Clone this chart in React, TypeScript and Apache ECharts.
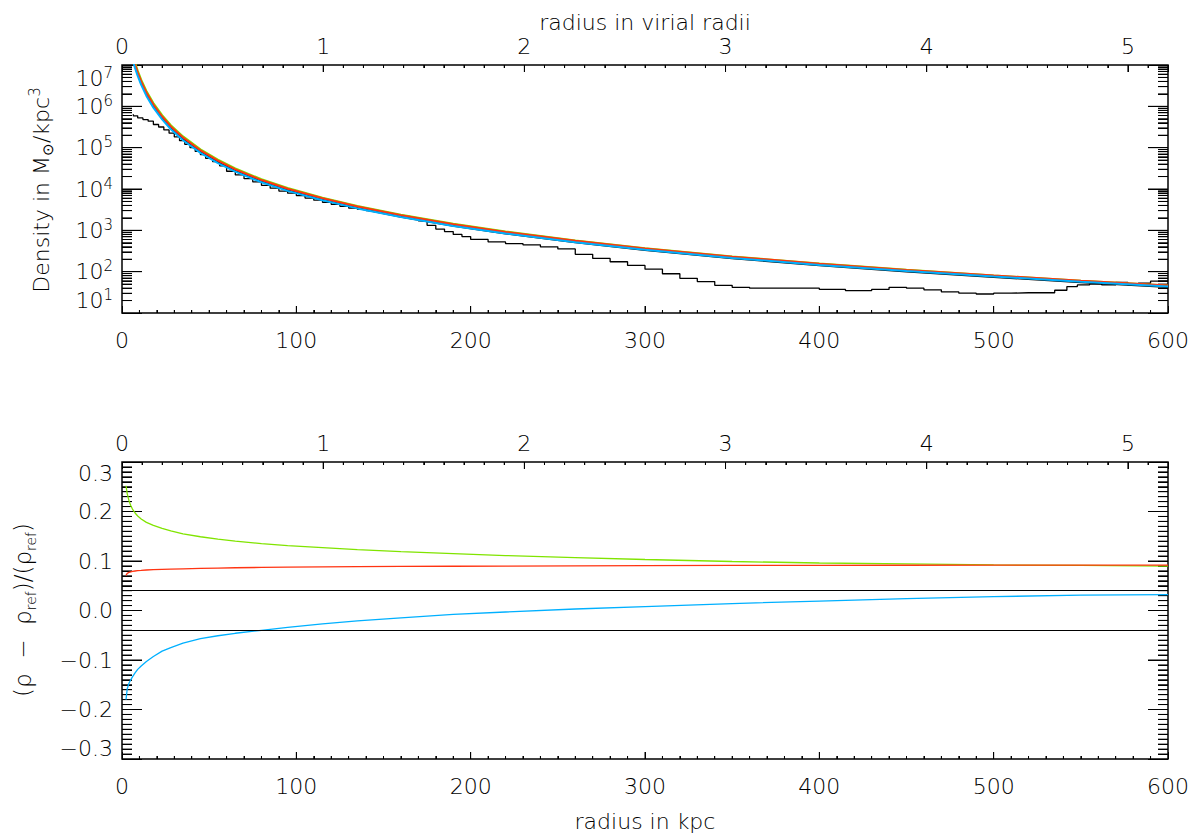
import React, { useEffect, useRef } from 'react';
import * as echarts from 'echarts';

// ---------- data ----------
// radii (kpc) at which the model curves are sampled
const radii = [2.3, 3, 4, 5, 6, 7.5, 9, 11, 14, 18, 23, 28, 35, 45, 55, 65, 80, 95, 115, 135, 160, 190, 220, 260, 300, 350, 400, 450, 500, 550, 600];
// log10 of the reference density (Msun/kpc^3)
const logRhoRef = [8.03, 7.81, 7.57, 7.37, 7.2, 6.98, 6.79, 6.57, 6.3, 6.01, 5.72, 5.48, 5.21, 4.9, 4.65, 4.44, 4.18, 3.97, 3.74, 3.54, 3.33, 3.11, 2.925, 2.71, 2.525, 2.325, 2.155, 2.005, 1.87, 1.745, 1.63];
// relative deviations (rho - rho_ref)/rho_ref
const deltaGreen = [0.252, 0.236, 0.222, 0.212, 0.205, 0.197, 0.191, 0.185, 0.178, 0.172, 0.166, 0.161, 0.155, 0.149, 0.144, 0.14, 0.135, 0.131, 0.127, 0.123, 0.119, 0.115, 0.111, 0.107, 0.103, 0.099, 0.096, 0.094, 0.092, 0.091, 0.0895];
const deltaRed = [0.071, 0.075, 0.077, 0.078, 0.079, 0.0798, 0.0805, 0.081, 0.0818, 0.0825, 0.083, 0.0835, 0.0842, 0.085, 0.0858, 0.0864, 0.087, 0.0876, 0.0882, 0.0886, 0.089, 0.0894, 0.0898, 0.0902, 0.0906, 0.091, 0.0912, 0.0914, 0.0915, 0.0916, 0.0916];
const deltaBlue = [-0.18, -0.158, -0.147, -0.14, -0.134, -0.126, -0.119, -0.112, -0.103, -0.093, -0.082, -0.075, -0.066, -0.057, -0.051, -0.046, -0.04, -0.034, -0.027, -0.021, -0.015, -0.008, -0.003, 0.003, 0.008, 0.014, 0.019, 0.024, 0.028, 0.031, 0.032];
// simulated density histogram (bin edge in kpc, log10 density)
const histRadii = [6.5, 9, 12, 15, 18, 21, 24, 27, 30, 33, 36, 39, 42, 45, 48, 52, 56, 60, 65, 70, 75, 80, 85, 90, 95, 100, 105, 110, 115, 120, 125, 130, 135, 140, 145, 150, 155, 160, 165, 170, 175, 180, 185, 190, 195, 200, 210, 220, 230, 240, 250, 260, 270, 280, 290, 300, 310, 320, 330, 340, 350, 360, 370, 385, 400, 415, 430, 440, 450, 460, 470, 480, 490, 500, 510, 520, 535, 542, 548, 555, 562, 570, 577, 583, 590, 597, 600];
const histLogRho = [5.81, 5.77, 5.72, 5.68, 5.64, 5.56, 5.5, 5.43, 5.35, 5.26, 5.17, 5.08, 5.0, 4.91, 4.83, 4.74, 4.66, 4.56, 4.43, 4.34, 4.25, 4.17, 4.09, 4.02, 3.95, 3.9, 3.84, 3.78, 3.73, 3.68, 3.63, 3.58, 3.54, 3.51, 3.48, 3.45, 3.42, 3.38, 3.34, 3.3, 3.23, 3.12, 3.03, 2.97, 2.9, 2.85, 2.78, 2.72, 2.68, 2.65, 2.6, 2.55, 2.42, 2.32, 2.24, 2.15, 2.06, 1.95, 1.84, 1.76, 1.67, 1.62, 1.6, 1.6, 1.6, 1.57, 1.54, 1.57, 1.62, 1.6, 1.56, 1.51, 1.48, 1.46, 1.48, 1.49, 1.49, 1.55, 1.64, 1.68, 1.7, 1.68, 1.74, 1.68, 1.72, 1.77, 1.77];
// horizontal reference lines in the lower panel
const bandLimits = [0.045, -0.045];
// axis ranges
const kpcRange = [0, 600];
const densityRange = [10, 1e7];
const deltaRange = [-0.3, 0.3];
const rVirialKpc = 115.4;

const FONT = 'DejaVu Sans';
const TXT = '#000';
const GREEN = '#80e400';
const RED = '#ff3412';
const BLUE = '#00b0ff';

export default function App() {
  const ref = useRef<HTMLDivElement>(null);
  useEffect(() => {
    if (!ref.current) return;
    const chart = echarts.init(ref.current, undefined, { renderer: 'svg' });
    const vMax = kpcRange[1] / rVirialKpc;

    const refData = radii.map((r, i) => [r, Math.pow(10, logRhoRef[i])]);
    const modelData = (d: number[]) => radii.map((r, i) => [r, Math.pow(10, logRhoRef[i]) * (1 + d[i])]);
    const histData = histRadii.map((r, i) => [r, Math.pow(10, histLogRho[i])]);

    const labelBase = { color: TXT, fontFamily: FONT, fontSize: 22, fontWeight: 200 as any };
    const tickStyle = { color: '#000', width: 1 };
    const noLine = { show: false, onZero: false };
    const noSplit = { show: false };

    const kpcAxis = (gridIndex: number) => ({
      type: 'value', gridIndex, position: 'bottom', min: kpcRange[0], max: kpcRange[1], interval: 100,
      axisLine: noLine, splitLine: noSplit, minorSplitLine: noSplit,
      axisTick: { show: true, inside: true, length: 7, lineStyle: tickStyle },
      minorTick: { show: true, splitNumber: 10, length: 3, lineStyle: tickStyle },
      axisLabel: { ...labelBase, margin: 16 },
    });
    const virAxisMajor = (gridIndex: number) => ({
      type: 'value', gridIndex, position: 'top', min: 0, max: vMax, interval: 1,
      axisLine: noLine, splitLine: noSplit,
      axisTick: { show: true, inside: true, length: 7, lineStyle: tickStyle },
      axisLabel: {
        ...labelBase, margin: 8,
        formatter: (v: number) => (Math.abs(v - Math.round(v)) < 1e-6 ? String(Math.round(v)) : ''),
      },
    });
    const virAxisMinor = (gridIndex: number) => ({
      type: 'value', gridIndex, position: 'top', min: 0, max: vMax, interval: 0.1,
      axisLine: noLine, splitLine: noSplit,
      axisTick: { show: true, inside: true, length: 3, lineStyle: tickStyle },
      axisLabel: { show: false },
    });
    const logAxis = (position: string, showLabel: boolean) => ({
      type: 'log', gridIndex: 0, position, min: densityRange[0], max: densityRange[1], logBase: 10, splitNumber: 6,
      axisLine: noLine, splitLine: noSplit, minorSplitLine: noSplit,
      axisTick: { show: true, inside: true, length: 20, lineStyle: tickStyle },
      minorTick: { show: true, splitNumber: 9, length: 10, lineStyle: tickStyle },
      axisLabel: showLabel
        ? {
            margin: 9,
            verticalAlignMaxLabel: 'top', verticalAlignMinLabel: 'bottom',
            formatter: (v: number) => '{b|10}{e|' + Math.round(Math.log10(v)) + '}',
            rich: {
              b: { ...labelBase, lineHeight: 26 },
              e: { ...labelBase, fontSize: 15, lineHeight: 16, verticalAlign: 'top' },
            },
          }
        : { show: false },
    });
    const linAxis = (position: string, showLabel: boolean) => ({
      type: 'value', gridIndex: 1, position, min: deltaRange[0], max: deltaRange[1], interval: 0.1,
      axisLine: noLine, splitLine: noSplit, minorSplitLine: noSplit,
      axisTick: { show: true, inside: true, length: 20, lineStyle: tickStyle },
      minorTick: { show: true, splitNumber: 10, length: 10, lineStyle: tickStyle },
      axisLabel: showLabel
        ? {
            ...labelBase, margin: 9,
            verticalAlignMaxLabel: 'top', verticalAlignMinLabel: 'bottom',
            formatter: (v: number) => (Math.abs(v) < 1e-9 ? '0.0' : v.toFixed(1).replace('-', '\u2212')),
          }
        : { show: false },
    });

    const line = (xi: number, yi: number, data: any, color: string, width: number, extra: any = {}) => ({
      type: 'line', xAxisIndex: xi, yAxisIndex: yi, data, showSymbol: false, symbol: 'none',
      lineStyle: { color, width }, itemStyle: { color }, silent: true, clip: true, ...extra,
    });

    // first pass: axes and series only (no graphic component yet)
    chart.setOption({
      animation: false,
      backgroundColor: '#fff',
      textStyle: { fontFamily: FONT },
      grid: [
        { left: 122, top: 65, width: 1046, height: 248, show: true, borderColor: '#000', borderWidth: 1.5, backgroundColor: 'transparent' },
        { left: 122, top: 462, width: 1046, height: 297, show: true, borderColor: '#000', borderWidth: 1.5, backgroundColor: 'transparent' },
      ],
      xAxis: [kpcAxis(0), virAxisMajor(0), virAxisMinor(0), kpcAxis(1), virAxisMajor(1), virAxisMinor(1)],
      yAxis: [logAxis('left', true), logAxis('right', false), linAxis('left', true), linAxis('right', false)],
      series: [
        line(0, 0, histData, '#000', 1.3, { step: 'start' }),
        line(0, 0, refData, '#000', 2),
        line(0, 0, modelData(deltaGreen), GREEN, 2),
        line(0, 0, modelData(deltaRed), RED, 2),
        line(0, 0, modelData(deltaBlue), BLUE, 2),
        line(3, 2, radii.map((r, i) => [r, deltaGreen[i]]), GREEN, 1.3),
        line(3, 2, radii.map((r, i) => [r, deltaRed[i]]), RED, 1.3),
        line(3, 2, radii.map((r, i) => [r, deltaBlue[i]]), BLUE, 1.3, {
          markLine: {
            symbol: 'none', silent: true, label: { show: false },
            lineStyle: { color: '#000', type: 'solid', width: 1 },
            data: bandLimits.map((v) => ({ yAxis: v })),
          },
        }),
      ],
    });

    // ---- tick marks placed through the chart's own coordinate system ----
    const tickEls: any[] = [];
    const addTick = (g: number, x: number, y: number, len: number, side: number) => {
      let p: any = null;
      try {
        p = chart.convertToPixel({ gridIndex: g } as any, [x, y]);
      } catch (e) {
        p = null;
      }
      if (!p || !isFinite(p[0]) || !isFinite(p[1])) return;
      let x2 = p[0];
      let y2 = p[1];
      if (side === 0) y2 = p[1] - len;
      else if (side === 1) y2 = p[1] + len;
      else if (side === 2) x2 = p[0] + len;
      else x2 = p[0] - len;
      tickEls.push({
        type: 'line',
        shape: { x1: p[0], y1: p[1], x2, y2 },
        style: { stroke: '#000', lineWidth: 1 },
      });
    };
    for (let r = 10; r < kpcRange[1]; r += 10) {
      const len = r % 100 === 0 ? 7 : 3;
      addTick(0, r, densityRange[0], len, 0);
      addTick(1, r, deltaRange[0], len, 0);
    }
    for (let k = 1; k <= 60; k++) {
      const v = k / 10;
      if (v >= vMax) break;
      const len = k % 10 === 0 ? 7 : 3;
      addTick(0, v * rVirialKpc, densityRange[1], len, 1);
      addTick(1, v * rVirialKpc, deltaRange[1], len, 1);
    }
    for (let n = 1; n <= 7; n++) {
      const base = Math.pow(10, n);
      if (n > 1 && n < 7) {
        addTick(0, kpcRange[0], base, 20, 2);
        addTick(0, kpcRange[1], base, 20, 3);
      }
      if (n < 7) {
        for (let m = 2; m <= 9; m++) {
          addTick(0, kpcRange[0], m * base, 10, 2);
          addTick(0, kpcRange[1], m * base, 10, 3);
        }
      }
    }
    for (let k = -29; k <= 29; k++) {
      const v = k / 100;
      const len = k % 10 === 0 ? 20 : 10;
      addTick(1, kpcRange[0], v, len, 2);
      addTick(1, kpcRange[1], v, len, 3);
    }

    // second pass: all graphic elements created at once
    chart.setOption({
      graphic: [
        {
          type: 'text', x: 645, y: 22,
          style: { text: 'radius in virial radii', fill: TXT, fontFamily: FONT, fontSize: 22, fontWeight: 200, align: 'center', verticalAlign: 'middle' },
        },
        {
          type: 'text', x: 645, y: 821,
          style: { text: 'radius in kpc', fill: TXT, fontFamily: FONT, fontSize: 22, fontWeight: 200, align: 'center', verticalAlign: 'middle' },
        },
        {
          type: 'text', x: 41, y: 190, rotation: Math.PI / 2,
          style: {
            text: '{n|Density in M}{s|\u2299}{n|/kpc}{p|3}',
            align: 'center', verticalAlign: 'middle', fill: TXT,
            rich: {
              n: { fill: TXT, fontFamily: FONT, fontSize: 22, fontWeight: 200, lineHeight: 28 },
              s: { fill: TXT, fontFamily: FONT, fontSize: 15, fontWeight: 200, lineHeight: 16, verticalAlign: 'bottom' },
              p: { fill: TXT, fontFamily: FONT, fontSize: 15, fontWeight: 200, lineHeight: 16, verticalAlign: 'top' },
            },
          },
        },
        {
          type: 'text', x: 23, y: 610, rotation: Math.PI / 2,
          style: {
            text: '{n|(\u03c1  \u2212  \u03c1}{s|ref}{n|)/(\u03c1}{s|ref}{n|)}',
            align: 'center', verticalAlign: 'middle', fill: TXT,
            rich: {
              n: { fill: TXT, fontFamily: FONT, fontSize: 23, fontWeight: 200, lineHeight: 30 },
              s: { fill: TXT, fontFamily: FONT, fontSize: 14, fontWeight: 200, lineHeight: 16, verticalAlign: 'bottom' },
            },
          },
        },
        { type: 'group', children: tickEls },
      ],
    });

    return () => chart.dispose();
  }, []);
  return (
    <div
      ref={ref}
      style={{ position: 'absolute', left: 0, top: 0, width: 1201, height: 838, background: '#fff' }}
    />
  );
}
